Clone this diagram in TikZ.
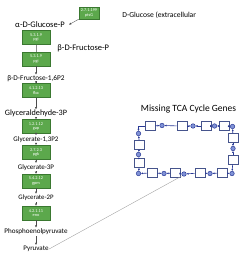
\documentclass[tikz,border=0pt]{standalone}
\usepackage{fontspec}
\setmainfont{Carlito}
\usepackage{tikz}
\usetikzlibrary{positioning,arrows.meta,calc}

\definecolor{enzfill}{RGB}{92,168,76}
\definecolor{enzline}{RGB}{58,120,48}
\definecolor{tcaline}{RGB}{70,84,140}
\definecolor{tcadark}{RGB}{40,56,150}
\definecolor{tcafill}{RGB}{128,146,214}
\newcommand{\fsz}[1]{\fontsize{#1}{#1}\selectfont}

\begin{document}
\begin{tikzpicture}[x=1pt, y=1pt, >=Latex,
  metab/.style={inner sep=0pt, minimum height=8pt},
  enz/.style={draw=enzline, fill=enzfill, text=white, minimum width=28pt, minimum height=14pt, inner sep=0pt, align=center, font=\fsz{4.3}},
  flow/.style={-{Latex[length=2.2pt,width=2.2pt]}, draw=black!70, line width=0.35pt},
  gene/.style={draw=tcaline, fill=white, line width=0.55pt, minimum width=10pt, minimum height=9pt, inner sep=0pt},
  met/.style={circle, draw=tcadark, fill=tcafill, line width=0.5pt, minimum size=4.5pt, inner sep=0pt},
  link/.style={-{Latex[length=2pt,width=2pt]}, draw=tcadark, line width=0.6pt}]
\useasboundingbox (0,0) rectangle (250,-253);
% glycolysis column
\node[enz] (pgiA) at (36,-37.5) {5.3.1.9\\pgi};
\node[metab, font=\fsz{8.5}, above=1.5pt of pgiA, xshift=4pt] (glcP) {α-D-Glucose-P};
\node[enz, below=7pt of pgiA] (pgiB) {5.3.1.9\\pgi};
\node[metab, font=\fsz{8.5}, anchor=west] (fruP) at ($(pgiA.south east)!0.5!(pgiB.north east)+(7,0)$) {β-D-Fructose-P};
\node[metab, font=\fsz{7.3}, below=8.5pt of pgiB] (fru16) {β-D-Fructose-1,6P2};
\node[enz, below=0.5pt of fru16] (fba) {4.1.2.13\\fba};
\node[metab, font=\fsz{8.2}, below=11.5pt of fba] (gap3) {Glyceraldehyde-3P};
\node[enz, below=1.5pt of gap3] (gapdh) {1.2.1.12\\gap};
\node[metab, font=\fsz{7}, below=1.5pt of gapdh] (bpg) {Glycerate-1,3P2};
\node[enz, below=1.5pt of bpg] (pgk) {2.7.2.3\\pgk};
\node[metab, font=\fsz{7}, below=3.5pt of pgk] (pg3) {Glycerate-3P};
\node[enz, below=2.5pt of pg3] (gpm) {5.4.2.12\\gpm};
\node[metab, font=\fsz{6.8}, below=5.5pt of gpm] (pg2) {Glycerate-2P};
\node[enz, below=3.5pt of pg2] (eno) {4.2.1.11\\eno};
\node[metab, font=\fsz{7.1}, below=7.5pt of eno] (pep) {Phosphoenolpyruvate};
\node[metab, font=\fsz{7}, below=9pt of pep] (pyr) {Pyruvate};
% uptake
\node[enz, minimum width=20pt, minimum height=12pt] (pts) at (89,-13) {2.7.1.199\\ptsG};
\node[metab, font=\fsz{7.6}, right=23pt of pts, yshift=-2pt] (glcex) {D-Glucose (extracellular};
\draw[flow] (pts.south west) -- ([xshift=4pt]glcP.east);
\draw[draw=black!45, line width=0.35pt] (pgiA) -- (pgiB);
\draw[flow] (pgiB) -- (fru16);
\draw[flow] (fru16) -- (fba);
\draw[flow] (fba) -- (gap3);
\draw[flow] (gap3) -- (gapdh);
\draw[flow] (gapdh) -- (bpg);
\draw[flow] (bpg) -- (pgk);
\draw[flow] (pgk) -- (pg3);
\draw[flow] (pg3) -- (gpm);
\draw[flow] (gpm) -- (pg2);
\draw[flow] (pg2) -- (eno);
\draw[flow] (eno) -- (pep);
\draw[flow] (pep) -- (pyr);
% TCA cycle
\node[font=\fsz{9.5}] (tcaT) at (188.5,-109) {Missing TCA Cycle Genes};
\node[gene] (g1) at (150,-126) {}; \node[met] (m1) at (162,-125.5) {};
\node[gene] (g2) at (182,-126) {}; \node[met] (m2) at (193,-126) {};
\node[gene] (g3) at (206,-126) {}; \node[met] (m3) at (214.5,-126) {};
\node[gene] (g4) at (224.5,-126) {}; \node[met] (mTR) at (232.5,-126.5) {};
\node[gene] (r1) at (233,-138) {}; \node[met] (mR) at (233,-148.5) {};
\node[gene] (r2) at (233,-159.5) {}; \node[met] (mBR) at (232,-173.5) {};
\node[gene] (b4) at (222,-173) {}; \node[met] (mB3) at (210,-173.5) {};
\node[gene] (b3) at (200,-173) {}; \node[met] (mB2) at (184,-174) {};
\node[gene] (b2) at (175.5,-173) {}; \node[met] (mB1) at (164,-173.5) {};
\node[gene] (b1) at (152,-173) {}; \node[met] (mBL) at (138.5,-173.5) {};
\node[gene] (l2) at (139.5,-163) {}; \node[met] (mL) at (138.5,-154.5) {};
\node[gene] (l1) at (139.5,-145) {}; \node[met] (mTL) at (138.5,-133.5) {};
\draw[link] (g1) -- (m1); \draw[link] (g2) -- (m1);
\draw[link] (g2) -- (m2); \draw[link] (g3) -- (m2);
\draw[link] (g3) -- (m3); \draw[link] (g4) -- (m3);
\draw[link] (g4) -- (mTR); \draw[link] (r1) -- (mTR);
\draw[link] (r1) -- (mR); \draw[link] (r2) -- (mR);
\draw[link] (r2) -- (mBR); \draw[link] (b4) -- (mBR);
\draw[link] (b4) -- (mB3); \draw[link] (b3) -- (mB3);
\draw[link] (b3) -- (mB2); \draw[link] (b2) -- (mB2);
\draw[link] (b2) -- (mB1); \draw[link] (b1) -- (mB1);
\draw[link] (b1) -- (mBL); \draw[link] (l2) -- (mBL);
\draw[link] (l2) -- (mL); \draw[link] (l1) -- (mL);
\draw[link] (l1) -- (mTL); \draw[link] (g1.west) -| (mTL.north);
% link to pyruvate
\draw[draw=black!40, line width=0.35pt, shorten >=1pt] (pyr.east) -- (mB2.south west);
\end{tikzpicture}
\end{document}
